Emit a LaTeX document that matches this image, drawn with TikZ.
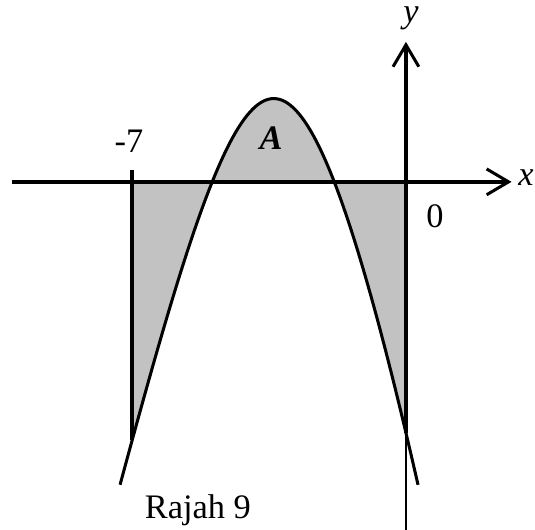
\documentclass[tikz,border=0pt]{standalone}
\usepackage{fontspec}
\setmainfont{Liberation Serif}
\usetikzlibrary{arrows.meta}
\tikzset{
  axis/.style={line width=1.35pt, -{Straight Barb[length=2.8mm, width=3.3mm, line width=1.1pt]}},
  curve/.style={line width=1.1pt, line join=round},
  shade/.style={fill=black!24, draw=none},
  lbl/.style={font=\fontsize{12.5}{14}\selectfont, inner sep=0pt},
  % the curve: rounded top, nearly straight sides
  declare function={fcurve(\t)=2.13-4.93*(sqrt(6.76+(\t+3.38)^2)-2.6)-0.00886*(\t+3.38)^3;},
}

\begin{document}
\begin{tikzpicture}[x=0.5cm, y=0.5cm]
  \useasboundingbox (-10.38,-8.9) rectangle (3.3,4.65);
  % shaded regions between curve and x-axis, from -7 to 0
  \begin{scope}
    \clip (-7,-9) rectangle (0,3);
    \fill[shade, even odd rule] plot[domain=-7.31:0.31, samples=120] (\x,{fcurve(\x)})
      -- (0.31,0) -- (-7.31,0) -- cycle;
  \end{scope}
  % axes
  \coordinate (O) at (0,0);
  \coordinate (ybot) at (0,{fcurve(0)});
  \coordinate (mline) at (-7,{fcurve(-7)});
  \draw[axis] (-10.08,0) -- (2.7,0);
  \draw[line width=0.8pt] (0,-8.9) -- (ybot);
  \draw[axis] (ybot) -- (0,3.58);
  % curve and the line x = -7
  \draw[curve] plot[domain=-7.31:0.31, samples=120] (\x,{fcurve(\x)});
  \draw[line width=1.35pt] (-7,0.31) -- (mline);
  % labels
  \node[lbl, anchor=east] (xlab) at (3.28,0.1) {\textit{x}};
  \node[lbl] (ylab) at (0.13,4.17) {\textit{y}};
  \node[lbl] (mseven) at (-7.08,1.05) {-7};
  \node[lbl] (zero) at (0.74,-0.88) {0};
  \node[lbl] (areaA) at (-3.45,1.11) {\textbf{\textit{A}}};
  \node[lbl, anchor=base] (caption) at (-5.32,-8.62) {Rajah 9};
\end{tikzpicture}
\end{document}
